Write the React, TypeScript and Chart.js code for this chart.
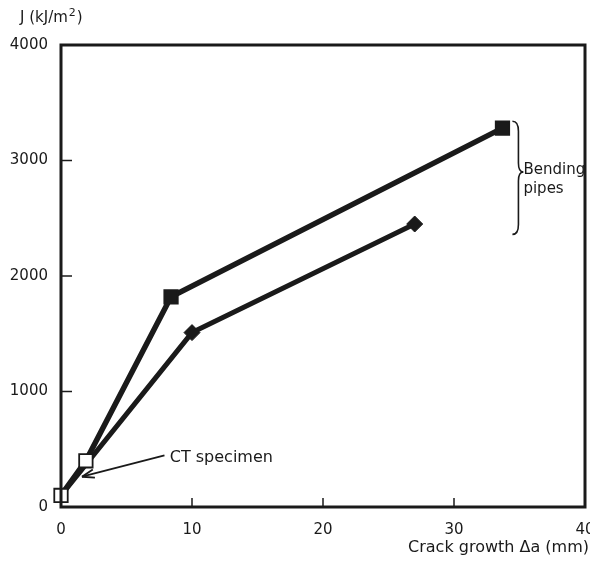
import React, { useEffect, useRef } from "react";
import { Chart, registerables } from "chart.js";

Chart.register(...registerables);

// ---- data ----
const xTickValues = [0, 10, 20, 30, 40];
const yTickValues = [0, 1000, 2000, 3000, 4000];
const squareX = [0, 1.9, 8.4, 33.7];
const squareY = [100, 400, 1820, 3280];
const squareFill = ["#ffffff", "#ffffff", "#1a1a1a", "#1a1a1a"];
const diamondX = [0, 10, 27];
const diamondY = [100, 1510, 2450];
const ctLabel = "CT specimen";
const pipeLabel = ["Bending", "pipes"];
const xTitle = "Crack growth \u0394a (mm)";
const yTitleMain = "J (kJ/m";
const yTitleSup = "2";

const INK = "#1a1a1a";
const FONT = "'DejaVu Sans', 'Liberation Sans', sans-serif";

const decorPlugin = {
  id: "decor",
  afterDraw(chart: any) {
    const { ctx, chartArea: a, scales } = chart;
    const xs = scales.x;
    const ys = scales.y;
    ctx.save();
    ctx.strokeStyle = INK;
    ctx.fillStyle = INK;

    // frame
    ctx.lineWidth = 3;
    ctx.strokeRect(a.left, a.top, a.right - a.left, a.bottom - a.top);

    // inward ticks
    ctx.lineWidth = 1.5;
    xTickValues.forEach((v) => {
      if (v === xs.min || v === xs.max) return;
      const px = xs.getPixelForValue(v);
      ctx.beginPath();
      ctx.moveTo(px, a.bottom);
      ctx.lineTo(px, a.bottom - 9);
      ctx.stroke();
    });
    yTickValues.forEach((v) => {
      if (v === ys.min || v === ys.max) return;
      const py = ys.getPixelForValue(v);
      ctx.beginPath();
      ctx.moveTo(a.left, py);
      ctx.lineTo(a.left + 11, py);
      ctx.stroke();
    });

    // CT specimen arrow
    const tx = xs.getPixelForValue(7.9);
    const ty = ys.getPixelForValue(448);
    const hx = xs.getPixelForValue(1.6);
    const hy = ys.getPixelForValue(262);
    ctx.lineWidth = 1.8;
    ctx.beginPath();
    ctx.moveTo(tx, ty);
    ctx.lineTo(hx, hy);
    ctx.stroke();
    const ang = Math.atan2(hy - ty, hx - tx);
    const hl = 13;
    ctx.beginPath();
    ctx.moveTo(hx, hy);
    ctx.lineTo(hx - hl * Math.cos(ang - 0.33), hy - hl * Math.sin(ang - 0.33));
    ctx.moveTo(hx, hy);
    ctx.lineTo(hx - hl * Math.cos(ang + 0.33), hy - hl * Math.sin(ang + 0.33));
    ctx.stroke();

    ctx.font = `16px ${FONT}`;
    ctx.textAlign = "left";
    ctx.textBaseline = "middle";
    ctx.fillText(ctLabel, xs.getPixelForValue(8.3), ys.getPixelForValue(425));

    // brace for bending pipes
    const cx = xs.getPixelForValue(35.3);
    const cy = ys.getPixelForValue(2900);
    const bt = ys.getPixelForValue(3340);
    const bb = ys.getPixelForValue(2360);
    ctx.lineWidth = 1.6;
    ctx.beginPath();
    ctx.moveTo(cx - 11, bt);
    ctx.quadraticCurveTo(cx - 5, bt, cx - 5, bt + 10);
    ctx.lineTo(cx - 5, cy - 9);
    ctx.quadraticCurveTo(cx - 5, cy, cx, cy);
    ctx.quadraticCurveTo(cx - 5, cy, cx - 5, cy + 9);
    ctx.lineTo(cx - 5, bb - 10);
    ctx.quadraticCurveTo(cx - 5, bb, cx - 11, bb);
    ctx.stroke();

    ctx.font = `15px ${FONT}`;
    ctx.fillText(pipeLabel[0], cx, ys.getPixelForValue(2915));
    ctx.fillText(pipeLabel[1], cx, ys.getPixelForValue(2750));

    // axis titles
    ctx.font = `16px ${FONT}`;
    ctx.textAlign = "right";
    ctx.fillText(xTitle, 589, 548);

    ctx.textAlign = "left";
    ctx.font = `15px ${FONT}`;
    let x0 = 20;
    ctx.fillText(yTitleMain, x0, 18);
    x0 += ctx.measureText(yTitleMain).width + 1;
    ctx.font = `11px ${FONT}`;
    ctx.fillText(yTitleSup, x0, 13);
    x0 += ctx.measureText(yTitleSup).width + 1;
    ctx.font = `15px ${FONT}`;
    ctx.fillText(")", x0, 18);

    ctx.restore();
  },
};

export default function App() {
  const ref = useRef<HTMLCanvasElement | null>(null);

  useEffect(() => {
    document.body.style.margin = "0";
    if (!ref.current) return;
    const squares = squareX.map((x, i) => ({ x, y: squareY[i] }));
    const diamonds = diamondX.map((x, i) => ({ x, y: diamondY[i] }));
    const chart = new Chart(ref.current, {
      type: "scatter",
      data: {
        datasets: [
          {
            label: "Bending pipe A",
            data: squares,
            showLine: true,
            clip: false,
            borderColor: INK,
            borderWidth: 5.5,
            pointStyle: "rect",
            pointRadius: 9.5,
            pointBorderWidth: 1.8,
            pointBorderColor: INK,
            pointBackgroundColor: squareFill,
            order: 0,
          },
          {
            label: "Bending pipe B",
            data: diamonds,
            showLine: true,
            clip: false,
            borderColor: INK,
            borderWidth: 5,
            pointStyle: "rectRot",
            pointRadius: diamondX.map((_, i) => (i === 0 ? 0 : 8)),
            pointBorderWidth: 1,
            pointBorderColor: INK,
            pointBackgroundColor: INK,
            order: 1,
          },
        ],
      },
      options: {
        animation: false,
        responsive: false,
        maintainAspectRatio: false,
        layout: { autoPadding: false, padding: { left: 0, top: 45, right: 5, bottom: 0 } },
        plugins: {
          legend: { display: false },
          tooltip: { enabled: false },
          title: { display: false },
        },
        scales: {
          x: {
            type: "linear",
            min: 0,
            max: 40,
            afterFit: (s: any) => {
              s.height = 57;
              s.paddingLeft = 0;
              s.paddingRight = 0;
            },
            afterBuildTicks: (s: any) => {
              s.ticks = xTickValues.map((v) => ({ value: v }));
            },
            ticks: {
              color: INK,
              font: { family: FONT, size: 15 },
              padding: 14,
              maxRotation: 0,
              autoSkip: false,
              callback: (v: any) => String(v),
            },
            grid: { display: false, drawTicks: false },
            border: { display: false },
          },
          y: {
            type: "linear",
            min: 0,
            max: 4000,
            afterFit: (s: any) => {
              s.width = 61;
              s.paddingTop = 0;
              s.paddingBottom = 0;
            },
            afterBuildTicks: (s: any) => {
              s.ticks = yTickValues.map((v) => ({ value: v }));
            },
            ticks: {
              color: INK,
              font: { family: FONT, size: 15 },
              padding: 13,
              autoSkip: false,
              callback: (v: any) => String(v),
            },
            grid: { display: false, drawTicks: false },
            border: { display: false },
          },
        },
      },
      plugins: [decorPlugin],
    });
    return () => chart.destroy();
  }, []);

  return (
    <div style={{ position: "absolute", left: 0, top: 0, width: 590, height: 564, background: "#fff" }}>
      <canvas ref={ref} width={590} height={564} style={{ width: 590, height: 564, display: "block" }} />
    </div>
  );
}
